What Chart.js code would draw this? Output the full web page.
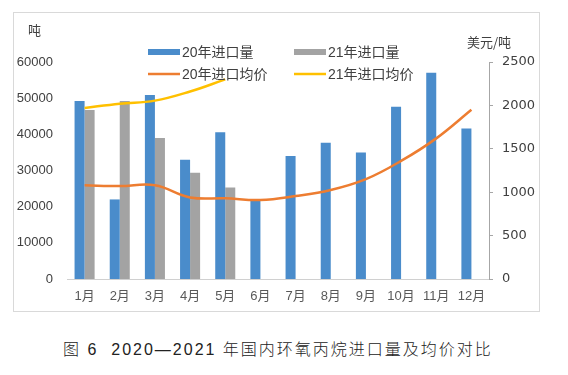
<!DOCTYPE html>
<html>
<head>
<meta charset="utf-8">
<script src="https://cdn.jsdelivr.net/npm/chart.js@4"></script>
<style>
  body { margin: 0; background: #fff; }
  #frame { position: absolute; left: 13px; top: 12px; width: 525px; height: 298px; border: 1px solid #d9d9d9; background: #fff; }
  #caption { position: absolute; left: 63px; top: 340px; font: 300 16px "Liberation Sans", "Noto Sans CJK SC", sans-serif; letter-spacing: 2px; color: #222; line-height: 20px; white-space: pre; }
</style>
</head>
<body>
<div id="frame"><canvas id="chart" width="525" height="298"></canvas></div>
<div id="caption">图 6  2020—2021 年国内环氧丙烷进口量及均价对比</div>
<script>
const months = ['1月', '2月', '3月', '4月', '5月', '6月', '7月', '8月', '9月', '10月', '11月', '12月'];
const vol2020 = [49200, 22000, 50900, 33000, 40600, 21800, 34000, 37700, 35000, 47600, 57000, 41600];
const vol2021 = [46700, 49200, 39000, 29400, 25300];
const price2020 = [1080, 1070, 1080, 940, 930, 910, 955, 1025, 1150, 1360, 1620, 1950];
const price2021 = [1970, 2020, 2055, 2160, 2300];

const FONT = '"Liberation Sans", "Noto Sans CJK SC", sans-serif';
const TXT = '#404040';

const legendItems = [
  { label: '20年进口量', color: '#4a8ccb', kind: 'bar', x: 134, y: 39 },
  { label: '21年进口量', color: '#a3a3a3', kind: 'bar', x: 280, y: 39 },
  { label: '20年进口均价', color: '#ed7d31', kind: 'line', x: 134, y: 61 },
  { label: '21年进口均价', color: '#ffc000', kind: 'line', x: 280, y: 61 }
];

const overlay = {
  id: 'overlay',
  afterDraw(chart) {
    const c = chart.ctx;
    c.save();
    c.fillStyle = TXT;
    c.textBaseline = 'middle';
    c.font = '13px "Noto Sans CJK SC", sans-serif';
    c.textAlign = 'left';
    c.fillText('吨', 14, 17);
    c.fillText('美元/吨', 453, 29);

    c.font = '14px ' + FONT;
    legendItems.forEach(it => {
      if (it.kind === 'bar') {
        c.fillStyle = it.color;
        c.fillRect(it.x, it.y - 3, 32, 6);
      } else {
        c.strokeStyle = it.color;
        c.lineWidth = 2.5;
        c.beginPath();
        c.moveTo(it.x, it.y);
        c.lineTo(it.x + 32, it.y);
        c.stroke();
      }
      c.fillStyle = TXT;
      c.fillText(it.label, it.x + 34, it.y + 1);
    });
    c.restore();
  }
};

new Chart(document.getElementById('chart'), {
  type: 'bar',
  data: {
    labels: months,
    datasets: [
      { type: 'line', label: '20年进口均价', data: price2020, yAxisID: 'y1', borderColor: '#ed7d31', borderWidth: 2.5, pointRadius: 0, tension: 0.4, order: 0 },
      { type: 'line', label: '21年进口均价', data: price2021, yAxisID: 'y1', borderColor: '#ffc000', borderWidth: 2.5, pointRadius: 0, tension: 0.4, order: 0 },
      { label: '20年进口量', data: vol2020, yAxisID: 'y', backgroundColor: '#4a8ccb', categoryPercentage: 0.57, barPercentage: 1, order: 1 },
      { label: '21年进口量', data: vol2021, yAxisID: 'y', backgroundColor: '#a3a3a3', categoryPercentage: 0.57, barPercentage: 1, order: 1 }
    ]
  },
  options: {
    responsive: false,
    animation: false,
    layout: { padding: { top: 49, left: 0, right: 0, bottom: 0 } },
    plugins: { legend: { display: false }, tooltip: { enabled: false } },
    scales: {
      x: {
        grid: { display: false, drawTicks: false },
        border: { color: '#d0d0d0', width: 1 },
        ticks: { color: '#595959', font: { size: 13, family: FONT }, padding: 10, maxRotation: 0, autoSkip: false },
        afterFit: s => { s.height = 32; }
      },
      y: {
        position: 'left',
        min: 0, max: 60000,
        grid: { display: false, drawTicks: false },
        border: { display: false },
        ticks: { stepSize: 10000, color: TXT, font: { size: 13, family: FONT }, padding: 14, callback: v => String(v) },
        afterFit: s => { s.width = 53; }
      },
      y1: {
        position: 'right',
        min: 0, max: 2500,
        grid: { drawOnChartArea: false, drawTicks: true, tickLength: 4, color: '#a6a6a6' },
        border: { color: '#a6a6a6', width: 1 },
        ticks: { stepSize: 500, color: TXT, font: { size: 13, family: '"DejaVu Sans", sans-serif' }, padding: 9, callback: v => String(v) },
        afterFit: s => { s.width = 50; }
      }
    }
  },
  plugins: [overlay]
});
</script>
</body>
</html>
